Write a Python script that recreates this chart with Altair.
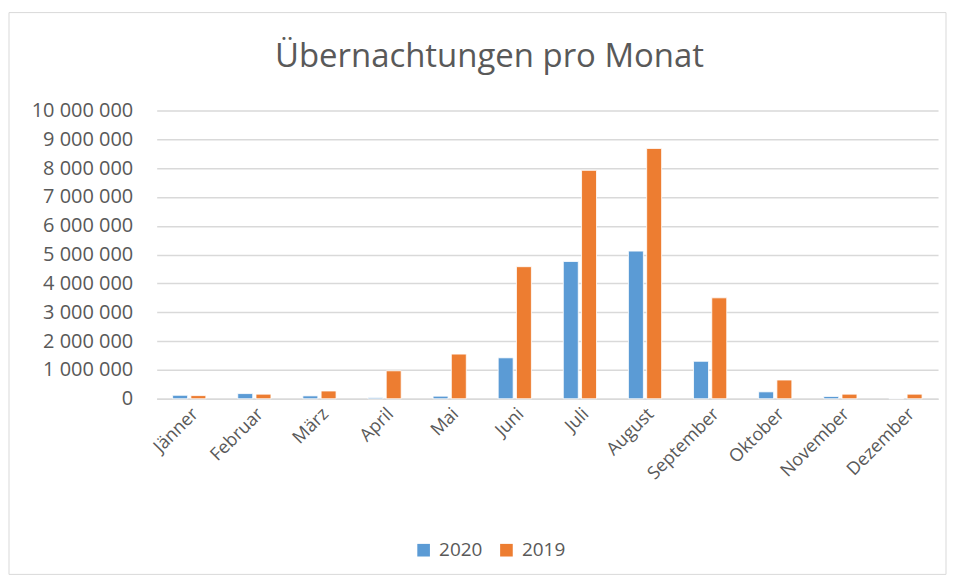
import altair as alt
import pandas as pd

months = ["Jänner", "Februar", "März", "April", "Mai", "Juni", "Juli",
          "August", "September", "Oktober", "November", "Dezember"]
v2020 = [120000, 180000, 100000, 40000, 90000, 1420000, 4760000,
         5120000, 1300000, 240000, 80000, 10000]
v2019 = [110000, 160000, 270000, 970000, 1550000, 4580000, 7920000,
         8680000, 3500000, 650000, 160000, 160000]
years = ["2020", "2019"]

rows = []
for m, a, b in zip(months, v2020, v2019):
    rows.append({"Monat": m, "Jahr": "2020", "Wert": a})
    rows.append({"Monat": m, "Jahr": "2019", "Wert": b})
df = pd.DataFrame(rows)

FONT = "Open Sans"
GREY = "#595959"
W, H = 783, 289

bars = alt.Chart(df).mark_bar(stroke="white", strokeWidth=0.8).encode(
    x=alt.X("Monat:N", sort=months, title=None,
            scale=alt.Scale(paddingInner=0.49, paddingOuter=0.245),
            axis=alt.Axis(labelAngle=-45, labelFontSize=18, labelColor=GREY,
                          labelFont=FONT, ticks=False, domainColor="#D9D9D9",
                          labelPadding=6, domainWidth=1.5)),
    xOffset=alt.XOffset("Jahr:N", sort=years,
                        scale=alt.Scale(paddingInner=0.18, paddingOuter=0)),
    y=alt.Y("Wert:Q", title=None,
            scale=alt.Scale(domain=[0, 10000000]),
            axis=alt.Axis(values=list(range(0, 10000001, 1000000)),
                          labelExpr="replace(format(datum.value, ','), regexp(',', 'g'), ' ')",
                          labelFontSize=20, labelColor=GREY, labelFont=FONT,
                          ticks=False, domain=False, gridColor="#D9D9D9",
                          gridWidth=1.5, labelPadding=24)),
    color=alt.Color("Jahr:N", sort=years,
                    scale=alt.Scale(domain=years, range=["#5B9BD5", "#ED7D31"]),
                    legend=alt.Legend(title=None, orient="none", direction="horizontal",
                                      legendX=258, legendY=431, symbolType="square",
                                      symbolSize=160, symbolStrokeWidth=0,
                                      labelFontSize=19, labelColor=GREY, labelFont=FONT,
                                      columnPadding=14, labelOffset=6)),
)

frame = alt.Chart(pd.DataFrame({"a": [0]})).mark_rect(
    fill=None, stroke="#D9D9D9", strokeWidth=1
).encode(x=alt.value(-148), x2=alt.value(W + 8), y=alt.value(-98), y2=alt.value(H + 176))

chart = alt.layer(frame, bars).properties(
    width=W, height=H,
    title=alt.Title("Übernachtungen pro Monat", fontSize=33, font=FONT,
                    color=GREY, fontWeight="normal", offset=-62, dx=-58,
                    frame="group", anchor="middle"),
    autosize=alt.AutoSizeParams(type="none"),
    padding={"left": 149, "top": 102, "right": 10, "bottom": 176},
).configure_view(stroke=None)

chart.save("out.html", embed_options={"renderer": "svg", "actions": False})
